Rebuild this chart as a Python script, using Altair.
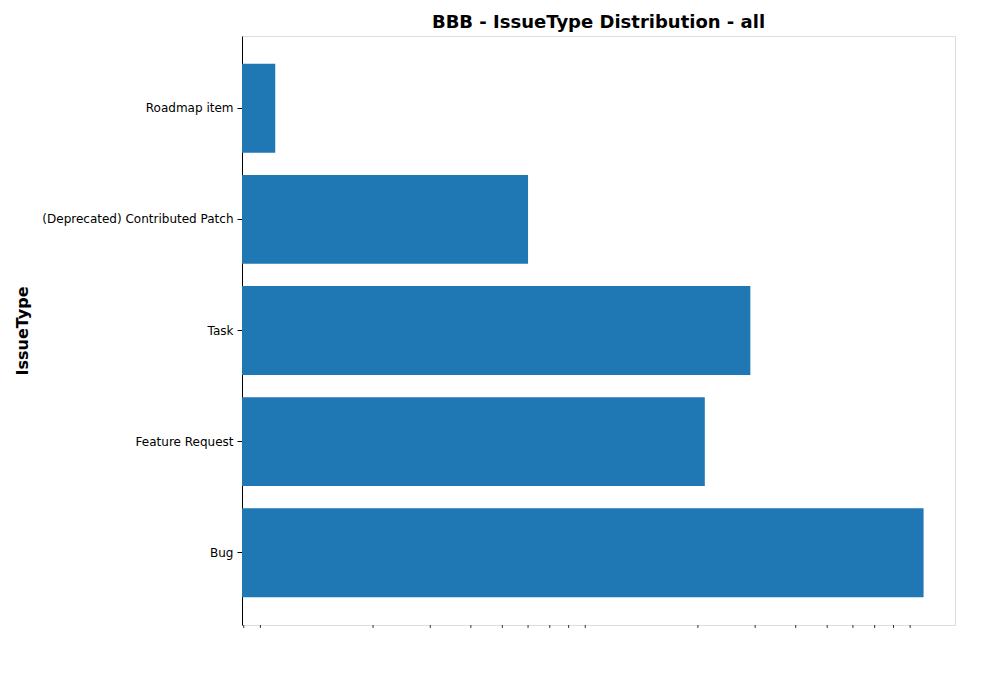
import altair as alt
import pandas as pd

issue_types = ["Roadmap item", "(Deprecated) Contributed Patch", "Task", "Feature Request", "Bug"]
counts = [1, 6, 29, 21, 99]
major_ticks = [1, 10, 100]
minor_ticks = [0.8, 0.9, 2, 3, 4, 5, 6, 7, 8, 9, 20, 30, 40, 50, 60, 70, 80, 90]
x_min, x_max = 0.79, 123.7

df = pd.DataFrame({"IssueType": issue_types, "Count": counts, "base": x_min})

xscale = alt.Scale(type="log", domain=[x_min, x_max], nice=False)
font = "DejaVu Sans"

bars = (
    alt.Chart(df)
    .mark_bar(color="#1f77b4", clip=True)
    .encode(
        x=alt.X(
            "Count:Q",
            scale=xscale,
            title="Count (log scale)",
            axis=alt.Axis(
                values=major_ticks, grid=False, tickSize=5, tickColor="black",
                domainColor="black", labelColor="black", labelFont=font, labelFontSize=12,
                labelExpr="datum.value == 1 ? '10⁰' : datum.value == 10 ? '10¹' : '10²'",
                titleFont=font, titleFontSize=16, titleFontWeight="bold", titleColor="black",
                titlePadding=8,
            ),
        ),
        x2="base:Q",
        y=alt.Y(
            "IssueType:N",
            sort=issue_types,
            scale=alt.Scale(paddingInner=0.2, paddingOuter=0.25),
            title="IssueType",
            axis=alt.Axis(
                tickSize=5, tickColor="black", domainColor="black", labelColor="black",
                labelFont=font, labelFontSize=12, labelPadding=4, labelLimit=400,
                titleFont=font, titleFontSize=16, titleFontWeight="bold", titleColor="black",
                titlePadding=12,
            ),
        ),
    )
)

minor = (
    alt.Chart(pd.DataFrame({"v": minor_ticks}))
    .mark_rule(color="black", strokeWidth=0.8)
    .encode(
        x=alt.X("v:Q", scale=xscale, axis=None),
        y=alt.value(589),
        y2=alt.value(592),
    )
)

chart = (
    alt.layer(bars, minor)
    .properties(
        width=713,
        height=589,
        title=alt.Title("BBB - IssueType Distribution - all", font=font, fontSize=18,
                        fontWeight="bold", color="black", anchor="middle", offset=4),
    )
    .configure_view(stroke="black", strokeWidth=1)
    .configure(background="white", padding={"left": 6, "top": 6, "right": 7, "bottom": 5})
)

chart.save("out.html", embed_options={"renderer": "svg", "actions": False})
